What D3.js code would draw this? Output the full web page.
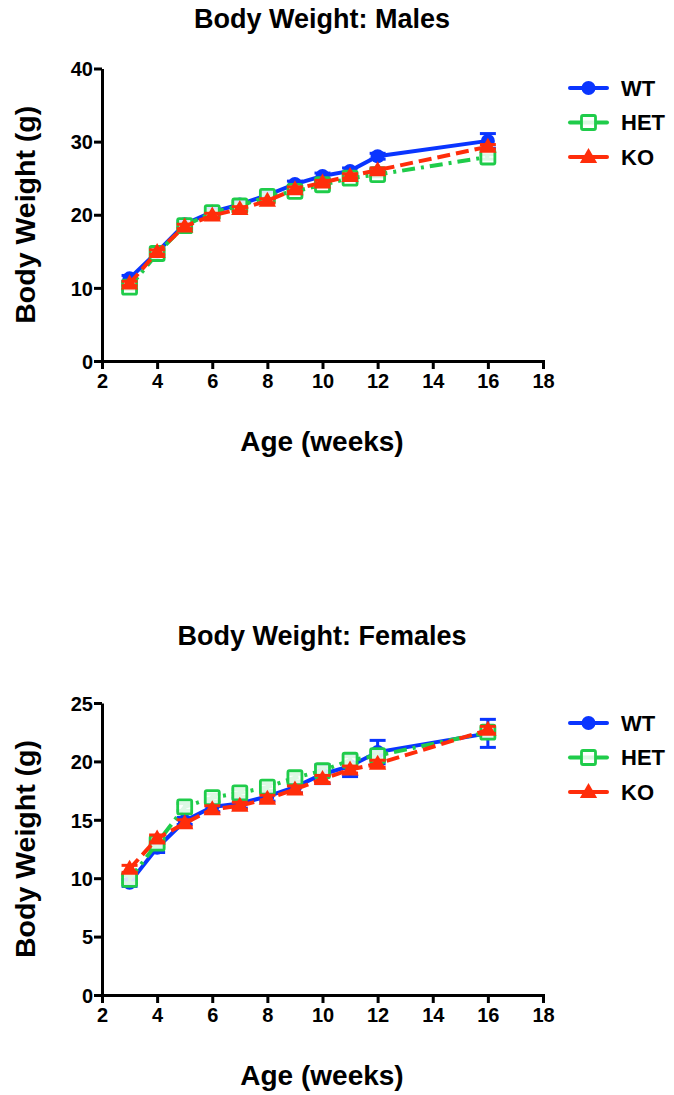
<!DOCTYPE html>
<html lang="en">
    <head>
        <meta charset="utf-8">
        <title>Body Weight</title>
        <script src="https://d3js.org/d3.v7.min.js"></script>
        <style type="text/css">
            body { margin: 0; background: #fff; }
            svg text { font-family: "Liberation Sans", Arial, sans-serif; font-weight: bold; }
            .axis path, .axis line { stroke: #000; stroke-width: 3px; }
            .axis text { font-size: 20px; fill: #000; }
            .line { fill: none; stroke-width: 4px; }
        </style>
    </head>
    <body>
        <script type="text/javascript">

            const w = 674;
            const h = 1095;

            // ages (weeks)
            const ages = [3, 4, 5, 6, 7, 8, 9, 10, 11, 12, 16];
            const xTicks = [2, 4, 6, 8, 10, 12, 14, 16, 18];

            // males
            const maleWT  = [11.3, 14.9, 18.7, 20.4, 21.4, 22.7, 24.2, 25.3, 26.0, 28.0, 30.1];
            const maleHET = [10.1, 14.7, 18.5, 20.3, 21.2, 22.5, 23.2, 24.1, 25.0, 25.5, 27.9];
            const maleKO  = [10.6, 14.9, 18.4, 19.9, 20.8, 21.9, 23.5, 24.4, 25.3, 26.1, 29.3];
            const maleWTsem  = [0.4, 0.4, 0.4, 0.4, 0.4, 0.4, 0.4, 0.4, 0.4, 0.4, 1.0];
            const maleHETsem = [0.3, 0.3, 0.3, 0.3, 0.3, 0.3, 0.3, 0.3, 0.3, 0.3, 0.3];
            const maleKOsem  = [0.3, 0.3, 0.3, 0.3, 0.3, 0.3, 0.3, 0.3, 0.3, 0.3, 0.3];
            const maleYTicks = [0, 10, 20, 30, 40];

            // females
            const femaleWT  = [9.6, 12.6, 14.9, 16.1, 16.4, 17.0, 17.8, 18.9, 19.6, 20.8, 22.4];
            const femaleHET = [9.9, 13.0, 16.1, 16.9, 17.3, 17.8, 18.6, 19.2, 20.1, 20.5, 22.5];
            const femaleKO  = [10.8, 13.4, 14.7, 15.9, 16.2, 16.8, 17.6, 18.5, 19.3, 19.8, 22.7];
            const femaleWTsem  = [0.3, 0.4, 0.3, 0.4, 0.4, 0.4, 0.5, 0.8, 0.9, 1.0, 1.2];
            const femaleHETsem = [0.3, 0.3, 0.3, 0.3, 0.3, 0.3, 0.3, 0.3, 0.3, 0.3, 0.3];
            const femaleKOsem  = [0.3, 0.3, 0.3, 0.3, 0.3, 0.3, 0.3, 0.3, 0.3, 0.3, 0.3];
            const femaleYTicks = [0, 5, 10, 15, 20, 25];

            const groups = ["WT", "HET", "KO"];
            const colors = { WT: "#0a35ff", HET: "#1fcc4a", KO: "#ff2d0a" };
            const dashes = { WT: null, HET: "13 6 3 6", KO: "13 6" };

            const svg = d3.select("body").append("svg").attr("width", w).attr("height", h);

            function drawPanel(cfg) {
                const x = d3.scaleLinear().domain([2, 18]).range([102, 543]);
                const y = d3.scaleLinear().domain([0, cfg.yMax]).range([cfg.bottom, cfg.top]);
                const g = svg.append("g");

                g.append("text").attr("x", 322).attr("y", cfg.titleY)
                    .attr("text-anchor", "middle").style("font-size", "27px")
                    .text(cfg.title);

                g.append("g").attr("class", "axis")
                    .attr("transform", "translate(0," + cfg.bottom + ")")
                    .call(d3.axisBottom(x).tickValues(xTicks).tickSize(8).tickSizeOuter(0).tickPadding(5))
                    .call(a => a.select(".domain").attr("stroke-linecap", "square"));

                g.append("g").attr("class", "axis")
                    .attr("transform", "translate(102,0)")
                    .call(d3.axisLeft(y).tickValues(cfg.yTicks).tickSize(8).tickSizeOuter(0).tickPadding(1))
                    .call(a => a.selectAll("text").attr("dy", "0.36em"));

                g.append("text")
                    .attr("transform", "translate(35," + ((cfg.top + cfg.bottom) / 2) + ") rotate(-90)")
                    .attr("text-anchor", "middle").style("font-size", "28.5px")
                    .text("Body Weight (g)");

                g.append("text").attr("x", 322).attr("y", cfg.bottom + 90)
                    .attr("text-anchor", "middle").style("font-size", "28px")
                    .text("Age (weeks)");

                groups.forEach(k => {
                    const vals = cfg.series[k];
                    const sem = cfg.sems[k];
                    const pts = ages.map((a, i) => ({ a: a, v: vals[i], s: sem[i] }));
                    const c = colors[k];

                    // error bars
                    const eb = g.append("g").attr("stroke", c).attr("stroke-width", 3);
                    pts.forEach(p => {
                        eb.append("line").attr("x1", x(p.a)).attr("x2", x(p.a))
                            .attr("y1", y(p.v - p.s)).attr("y2", y(p.v + p.s));
                        [p.v - p.s, p.v + p.s].forEach(e => {
                            eb.append("line").attr("x1", x(p.a) - 8).attr("x2", x(p.a) + 8)
                                .attr("y1", y(e)).attr("y2", y(e));
                        });
                    });

                    g.append("path").attr("class", "line")
                        .attr("d", d3.line().x(d => x(d.a)).y(d => y(d.v))(pts))
                        .style("stroke", c)
                        .style("stroke-dasharray", dashes[k]);

                    pts.forEach(p => marker(g, k, x(p.a), y(p.v)));
                });

                // legend
                groups.forEach((k, i) => {
                    const ly = cfg.legendY + i * 34.5;
                    g.append("line").attr("x1", 570).attr("x2", 607).attr("y1", ly).attr("y2", ly)
                        .attr("stroke", colors[k]).attr("stroke-width", 4).attr("stroke-linecap", "round");
                    marker(g, k, 588.5, ly);
                    g.append("text").attr("x", 621).attr("y", ly).attr("dy", "0.36em")
                        .style("font-size", "22px").text(k);
                });
            }

            function marker(g, k, cx, cy) {
                const c = colors[k];
                if (k === "WT") {
                    g.append("circle").attr("cx", cx).attr("cy", cy).attr("r", 7).attr("fill", c);
                } else if (k === "HET") {
                    g.append("rect").attr("x", cx - 7).attr("y", cy - 7).attr("width", 14).attr("height", 14)
                        .attr("rx", 1.5).attr("fill", "#fff").attr("fill-opacity", 0.85)
                        .attr("stroke", c).attr("stroke-width", 2.8);
                } else {
                    g.append("path").attr("d", d3.symbol(d3.symbolTriangle, 130)())
                        .attr("transform", "translate(" + cx + "," + (cy + 1) + ")").attr("fill", c);
                }
            }

            drawPanel({
                title: "Body Weight: Males", titleY: 28,
                top: 68.5, bottom: 361, yMax: 40, yTicks: maleYTicks,
                series: { WT: maleWT, HET: maleHET, KO: maleKO },
                sems: { WT: maleWTsem, HET: maleHETsem, KO: maleKOsem },
                legendY: 88
            });

            drawPanel({
                title: "Body Weight: Females", titleY: 645,
                top: 703, bottom: 995, yMax: 25, yTicks: femaleYTicks,
                series: { WT: femaleWT, HET: femaleHET, KO: femaleKO },
                sems: { WT: femaleWTsem, HET: femaleHETsem, KO: femaleKOsem },
                legendY: 723
            });
        </script>
    </body>
</html>
